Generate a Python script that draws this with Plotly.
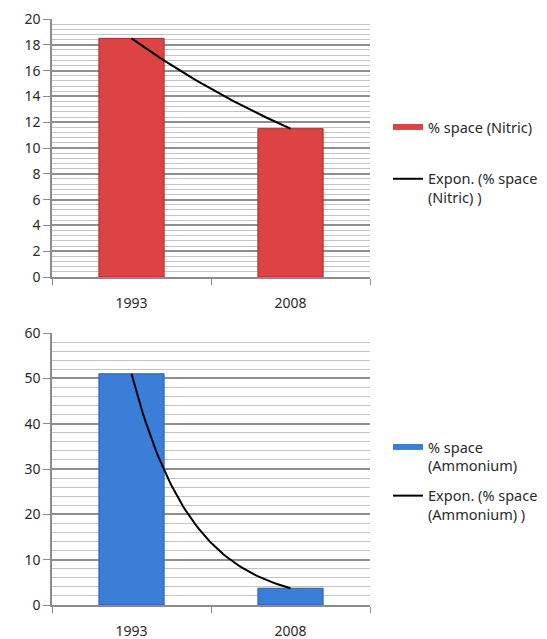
import numpy as np
import plotly.graph_objects as go

years = ["1993", "2008"]
nitric = [18.5, 11.5]
ammonium = [51.0, 3.7]

OFF = 8                      # default page body margin
W, H = 547 - OFF, 639 - OFF  # figure size that fits the window

def px_x(p):
    return (p - OFF) / W

def px_y(p):
    return 1 - (p - OFF) / H

def expon_fit(vals, n=60):
    # Excel-style exponential trendline y = a*exp(b*x) through the series (x = 1..n)
    xs = np.arange(1, len(vals) + 1)
    b, lna = np.polyfit(xs, np.log(vals), 1)
    t = np.linspace(1, len(vals), n)
    return t - 1, np.exp(lna) * np.exp(b * t)

RED, RED_EDGE = "#dc4444", "#a82a2a"
BLUE, BLUE_EDGE = "#3b7ed8", "#2a5fa8"

fig = go.Figure()
idx = list(range(len(years)))

# --- top chart ---
fig.add_trace(go.Bar(x=idx, y=nitric, width=0.41, showlegend=False,
                     marker=dict(color=RED, line=dict(color=RED_EDGE, width=1)),
                     xaxis="x", yaxis="y"))
fig.add_trace(go.Scatter(x=[None], y=[None], mode="lines", name="% space (Nitric)",
                         line=dict(color=RED, width=6),
                         xaxis="x", yaxis="y", legend="legend", legendgroup="a"))
tx, ty = expon_fit(nitric)
fig.add_trace(go.Scatter(x=tx, y=ty, mode="lines", name="Expon. (% space<br>(Nitric) )",
                         line=dict(color="black", width=2),
                         xaxis="x", yaxis="y", legend="legend", legendgroup="b"))

# --- bottom chart ---
fig.add_trace(go.Bar(x=idx, y=ammonium, width=0.41, showlegend=False,
                     marker=dict(color=BLUE, line=dict(color=BLUE_EDGE, width=1)),
                     xaxis="x2", yaxis="y2"))
fig.add_trace(go.Scatter(x=[None], y=[None], mode="lines", name="% space<br>(Ammonium)",
                         line=dict(color=BLUE, width=6),
                         xaxis="x2", yaxis="y2", legend="legend2", legendgroup="c"))
tx2, ty2 = expon_fit(ammonium)
fig.add_trace(go.Scatter(x=tx2, y=ty2, mode="lines", name="Expon. (% space<br>(Ammonium) )",
                         line=dict(color="black", width=2),
                         xaxis="x2", yaxis="y2", legend="legend2", legendgroup="d"))

FAM = "Noto Sans"
font = dict(family=FAM, size=14, color="#2a2a2a")

def xax(anchor):
    return dict(domain=[px_x(52), px_x(370)], range=[-0.5, 1.5], anchor=anchor,
                automargin=False,
                tickvals=idx, ticktext=years, ticks="", showgrid=False, zeroline=False,
                showline=True, linecolor="#8c8c8c", linewidth=1.5, tickfont=font,
                ticklabelstandoff=12,
                minor=dict(tick0=-0.5, dtick=1, ticks="outside", ticklen=6,
                           tickcolor="#8c8c8c", showgrid=False))

def yax(anchor, top, bottom, rng, dt, mdt):
    return dict(domain=[px_y(bottom), px_y(top)], range=rng, anchor=anchor,
                automargin=False,
                dtick=dt, ticks="outside", ticklen=7, tickcolor="#8c8c8c",
                showline=True, linecolor="#8c8c8c", linewidth=1.5,
                gridcolor="#8f8f8f", gridwidth=1.5, zeroline=False, tickfont=font,
                minor=dict(dtick=mdt, showgrid=True, gridcolor="#c4c4c4", gridwidth=1.2))

legfont = dict(family=FAM, size=14.5, color="#2a2a2a")
fig.update_layout(
    width=W, height=H, margin=dict(l=0, r=0, t=0, b=0),
    paper_bgcolor="white", plot_bgcolor="white",
    showlegend=True,
    xaxis=xax("y"), yaxis=yax("x", 19, 277, [0, 20], 2, 0.4),
    xaxis2=xax("y2"), yaxis2=yax("x2", 333, 605, [0, 60], 10, 2),
    legend=dict(x=px_x(388), y=px_y(111), xanchor="left", yanchor="top",
                font=legfont, valign="top",
                tracegroupgap=30, bgcolor="rgba(0,0,0,0)", itemwidth=30),
    legend2=dict(x=px_x(388), y=px_y(431), xanchor="left", yanchor="top",
                 font=legfont, valign="top",
                 tracegroupgap=8, bgcolor="rgba(0,0,0,0)", itemwidth=30),
)

fig.write_html("out.html")
